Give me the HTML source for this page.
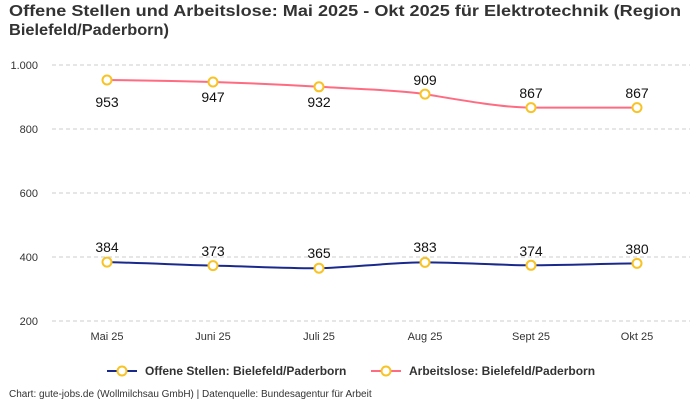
<!DOCTYPE html>
<html><head><meta charset="utf-8"><style>body{margin:0;background:#fff}svg{display:block}</style></head><body>
<svg width="700" height="400" xmlns="http://www.w3.org/2000/svg" font-family="Liberation Sans, sans-serif">
<text x="9" y="16" font-size="16" font-weight="bold" fill="#333" textLength="672" lengthAdjust="spacingAndGlyphs">Offene Stellen und Arbeitslose: Mai 2025 - Okt 2025 für Elektrotechnik (Region</text>
<text x="9" y="35" font-size="16" font-weight="bold" fill="#333" textLength="160" lengthAdjust="spacingAndGlyphs">Bielefeld/Paderborn)</text>
<g stroke="#ccc" stroke-dasharray="4,3" stroke-width="1">
<line x1="52" y1="65" x2="690" y2="65"/><line x1="52" y1="129" x2="690" y2="129"/><line x1="52" y1="193" x2="690" y2="193"/><line x1="52" y1="257" x2="690" y2="257"/><line x1="52" y1="321" x2="690" y2="321"/>
</g>
<g font-size="11" fill="#333" text-anchor="end">
<text x="38" y="69">1.000</text><text x="38" y="133">800</text><text x="38" y="197">600</text><text x="38" y="261">400</text><text x="38" y="325">200</text>
</g>
<g font-size="11" fill="#333" text-anchor="middle">
<text x="107" y="340">Mai 25</text><text x="213" y="340">Juni 25</text><text x="319" y="340">Juli 25</text><text x="425" y="340">Aug 25</text><text x="531" y="340">Sept 25</text><text x="637" y="340">Okt 25</text>
</g>
<path d="M107,80 C160,80.5 180,81 213,82 S290,85 319,86.8 S400,90 425,94.1 S500,107.6 531,107.6 L637,107.6" fill="none" stroke="#ff6b81" stroke-width="2"/>
<path d="M107,262.1 C160,263.5 180,265 213,265.6 S290,268.5 319,268.2 S390,262.4 425,262.4 S500,265.3 531,265.3 S610,263.6 637,263.4" fill="none" stroke="#1a2a8c" stroke-width="2"/>
<g fill="#fff" stroke="#f7c325" stroke-width="2">
<circle cx="107" cy="80" r="4.5"/><circle cx="213" cy="82" r="4.5"/><circle cx="319" cy="86.8" r="4.5"/><circle cx="425" cy="94.1" r="4.5"/><circle cx="531" cy="107.6" r="4.5"/><circle cx="637" cy="107.6" r="4.5"/>
<circle cx="107" cy="262.1" r="4.5"/><circle cx="213" cy="265.6" r="4.5"/><circle cx="319" cy="268.2" r="4.5"/><circle cx="425" cy="262.4" r="4.5"/><circle cx="531" cy="265.3" r="4.5"/><circle cx="637" cy="263.4" r="4.5"/>
</g>
<g font-size="14" fill="#111" text-anchor="middle">
<text x="107" y="107">953</text><text x="213" y="102">947</text><text x="319" y="107">932</text><text x="425" y="85">909</text><text x="531" y="98">867</text><text x="637" y="98">867</text>
<text x="107" y="252">384</text><text x="213" y="256">373</text><text x="319" y="258">365</text><text x="425" y="252">383</text><text x="531" y="256">374</text><text x="637" y="254">380</text>
</g>
<line x1="107" y1="371" x2="137" y2="371" stroke="#1a2a8c" stroke-width="2"/><circle cx="122" cy="371" r="4.5" fill="#fff" stroke="#f7c325" stroke-width="2"/>
<text x="145" y="375" font-size="12" font-weight="bold" fill="#333">Offene Stellen: Bielefeld/Paderborn</text>
<line x1="371" y1="371" x2="401" y2="371" stroke="#ff6b81" stroke-width="2"/><circle cx="386" cy="371" r="4.5" fill="#fff" stroke="#f7c325" stroke-width="2"/>
<text x="409" y="375" font-size="12" font-weight="bold" fill="#333">Arbeitslose: Bielefeld/Paderborn</text>
<text x="9" y="397" font-size="10" fill="#333">Chart: gute-jobs.de (Wollmilchsau GmbH) | Datenquelle: Bundesagentur für Arbeit</text>
</svg>
</body></html>
